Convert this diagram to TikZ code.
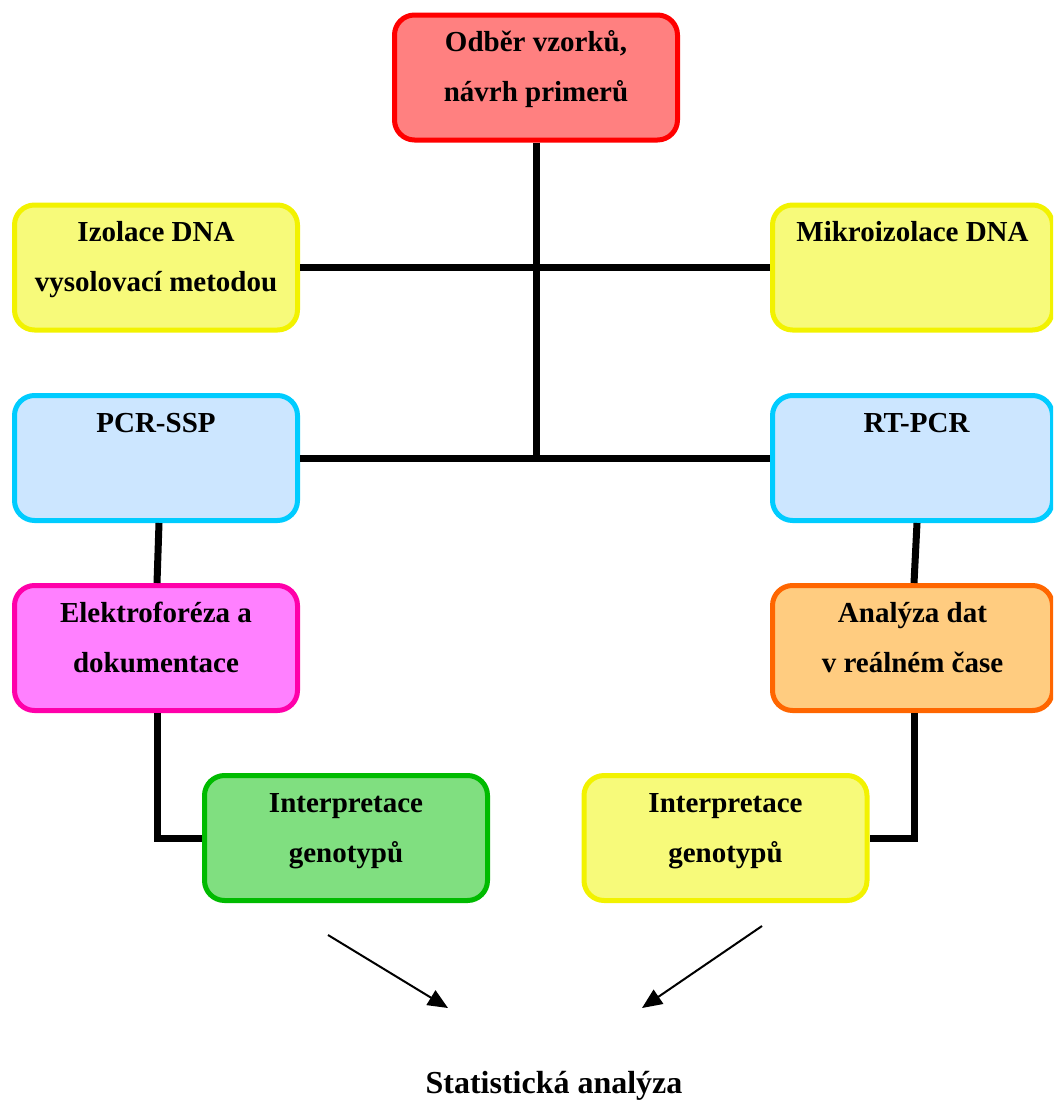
\documentclass[tikz,border=0pt]{standalone}
\usepackage{fontspec}
\setmainfont{Liberation Serif}
\usetikzlibrary{arrows.meta}
\definecolor{redfill}{HTML}{FF8080}
\definecolor{redline}{HTML}{FF0000}
\definecolor{yelfill}{HTML}{F7FA7A}
\definecolor{yelline}{HTML}{F2F200}
\definecolor{bluefill}{HTML}{CCE6FF}
\definecolor{blueline}{HTML}{00CCFF}
\definecolor{pinkfill}{HTML}{FF80FF}
\definecolor{pinkline}{HTML}{FF00AA}
\definecolor{orfill}{HTML}{FFCC80}
\definecolor{orline}{HTML}{FF6600}
\definecolor{grfill}{HTML}{80DF80}
\definecolor{grline}{HTML}{00BB00}
\begin{document}
\begin{tikzpicture}[x=1pt,y=-1pt,
  box/.style={draw, line width=5pt, rounded corners=20pt, minimum width=283pt, minimum height=125pt, inner sep=0pt},
  rbox/.style={box, minimum width=280pt},
  txt/.style={anchor=base, inner sep=0pt, font=\fontsize{29}{35}\selectfont\bfseries},
  conn/.style={line width=7pt, black},
  arr/.style={line width=2pt, -{Triangle[length=20pt,width=17pt]}}]
\clip (0,0) rectangle (1053,1100);
% boxes
\node[box, fill=redfill, draw=redline] (odber) at (536,77.5) {};
\node[box, fill=yelfill, draw=yelline] (izol) at (156,267.5) {};
\node[rbox, fill=yelfill, draw=yelline] (mikro) at (912.5,267.5) {};
\node[box, fill=bluefill, draw=blueline] (pcr) at (156,458) {};
\node[rbox, fill=bluefill, draw=blueline] (rt) at (912.5,458) {};
\node[box, fill=pinkfill, draw=pinkline] (elek) at (156,648) {};
\node[rbox, fill=orfill, draw=orline] (anal) at (912.5,648) {};
\node[box, fill=grfill, draw=grline] (gen1) at (346,838) {};
\node[box, fill=yelfill, draw=yelline] (gen2) at (725.5,838) {};
% texts
\node[txt] (t1a) at ([yshift=-39pt]odber.north) {Odběr vzorků,};
\node[txt] (t1b) at ([yshift=-89pt]odber.north) {návrh primerů};
\node[txt] (t2a) at ([yshift=-39pt]izol.north) {Izolace DNA};
\node[txt] (t2b) at ([yshift=-89pt]izol.north) {vysolovací metodou};
\node[txt] (t3a) at ([yshift=-39pt]mikro.north) {Mikroizolace DNA};
\node[txt] (t4a) at ([yshift=-39pt]pcr.north) {PCR-SSP};
\node[txt] (t5a) at ([yshift=-39pt,xshift=4pt]rt.north) {RT-PCR};
\node[txt] (t6a) at ([yshift=-39pt]elek.north) {Elektroforéza a};
\node[txt] (t6b) at ([yshift=-89pt]elek.north) {dokumentace};
\node[txt] (t7a) at ([yshift=-39pt]anal.north) {Analýza dat};
\node[txt] (t7b) at ([yshift=-89pt]anal.north) {v reálném čase};
\node[txt] (t8a) at ([yshift=-39pt]gen1.north) {Interpretace};
\node[txt] (t8b) at ([yshift=-89pt]gen1.north) {genotypů};
\node[txt] (t9a) at ([yshift=-39pt]gen2.north) {Interpretace};
\node[txt] (t9b) at ([yshift=-89pt]gen2.north) {genotypů};
\node[txt, font=\fontsize{32}{38}\selectfont\bfseries] (stat) at (554,1093) {Statistická analýza};
% connectors
\draw[conn] (odber.south) -- (odber.south |- pcr.east);
\draw[conn] (izol.east) -- (mikro.west);
\draw[conn] (pcr.east) -- (rt.west);
\draw[conn] ([xshift=3pt]pcr.south) -- ([xshift=1pt]elek.north);
\draw[conn] ([xshift=4.5pt]rt.south) -- ([xshift=1.5pt]anal.north);
\draw[conn] ([xshift=1pt]elek.south) -- ([xshift=1pt]elek.south |- gen1.west) -- (gen1.west);
\draw[conn] ([xshift=2pt]anal.south) -- ([xshift=2pt]anal.south |- gen2.east) -- (gen2.east);
% arrows
\coordinate (a1s) at (328,935);
\coordinate (a1e) at (448,1008);
\coordinate (a2s) at (762,926);
\coordinate (a2e) at (642,1008);
\draw[arr] (a1s) -- (a1e);
\draw[arr] (a2s) -- (a2e);
\end{tikzpicture}
\end{document}
